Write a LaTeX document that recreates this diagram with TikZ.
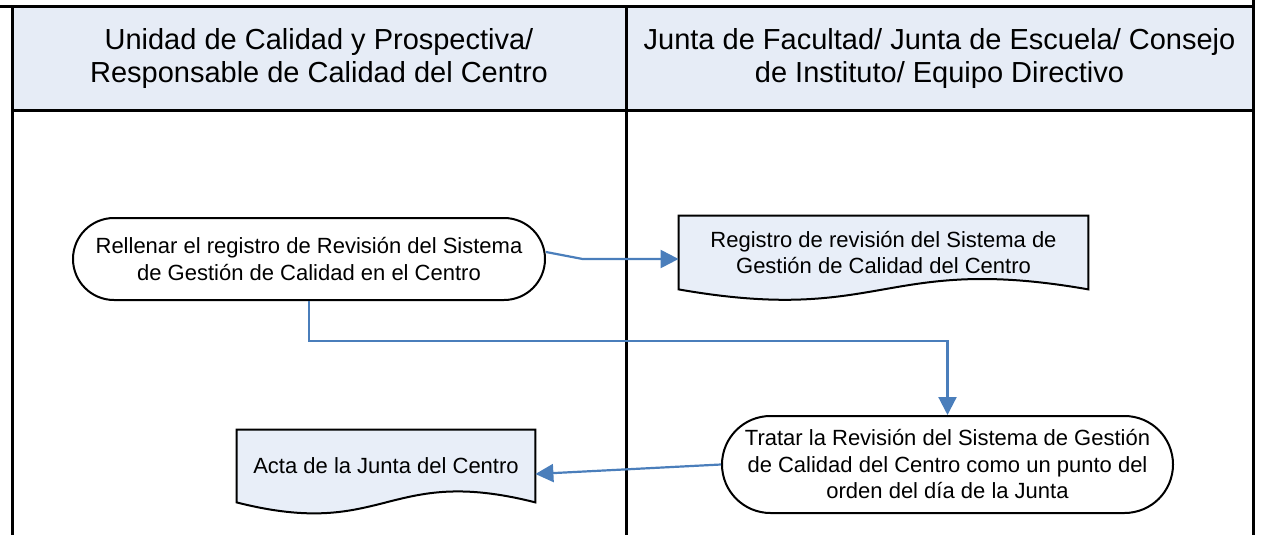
\documentclass[tikz,border=0pt]{standalone}
\usepackage{fontspec}
\setmainfont{Liberation Sans}
\usetikzlibrary{arrows.meta,calc,backgrounds}
\definecolor{lanefill}{RGB}{230,236,246}
\definecolor{docfill}{RGB}{232,238,248}
\definecolor{flowblue}{RGB}{74,126,187}

\tikzset{
  lane/.style={line width=1.5pt},
  header/.style={fill=lanefill, align=center, font=\fontsize{14.5}{16.5}\selectfont},
  proceso/.style={draw, line width=1pt, align=center, font=\fontsize{11}{13.25}\selectfont},
  documento/.style={align=center, font=\fontsize{11}{13.25}\selectfont},
  docline/.style={draw, fill=docfill, line width=1pt},
  flujo/.style={draw=flowblue, line width=1.1pt, -{Triangle[length=9pt,width=9pt]}}
}

\begin{document}
\begin{tikzpicture}[x=0.5pt,y=-0.5pt]
\useasboundingbox (0,0) rectangle (1263,535);
% cabeceras de las calles
\node[header, minimum width=307pt, minimum height=52pt] (hdrcalidad) at (319,59)
  {Unidad de Calidad y Prospectiva/\\Responsable de Calidad del Centro};
\node[header, minimum width=313.5pt, minimum height=52pt] (hdrjunta) at (939.5,59)
  {Junta de Facultad/ Junta de Escuela/ Consejo\\de Instituto/ Equipo Directivo};
\draw[lane] (0,7) -- (1253,7);
\draw[lane] (12,111) -- (1253,111);
\draw[lane] (12,7) -- (12,535);
\draw[lane] (626,7) -- (626,535);
\draw[lane] (1253,0) -- (1253,535);
% actividades y documentos
\node[proceso, minimum width=236pt, minimum height=41pt, rounded corners=20.5pt] (rellenar) at (309,259)
  {Rellenar el registro de Revisi\'on del Sistema\\de Gesti\'on de Calidad en el Centro};
\node[documento, minimum width=204.5pt, minimum height=36.5pt] (registro) at (883.5,252.5)
  {Registro de revisi\'on del Sistema de\\Gesti\'on de Calidad del Centro};
\node[proceso, minimum width=225.5pt, minimum height=48.5pt, rounded corners=24.25pt] (tratar) at (947.5,464.5)
  {Tratar la Revisi\'on del Sistema de Gesti\'on\\de Calidad del Centro como un punto del\\orden del d\'ia de la Junta};
\node[documento, minimum width=149pt, minimum height=36pt] (acta) at (386,466)
  {Acta de la Junta del Centro};
\begin{scope}[on background layer]
\draw[docline] (registro.north west) -- (registro.north east) -- (registro.south east)
  .. controls ($(registro.south)+(0,-36)$) and ($(registro.south)+(0,36)$) .. (registro.south west) -- cycle;
\draw[docline] (acta.north west) -- (acta.north east) -- (acta.south east)
  .. controls ($(acta.south)+(0,-38)$) and ($(acta.south)+(0,38)$) .. (acta.south west) -- cycle;
\end{scope}
% flechas
\draw[flujo] ([yshift=3.5pt]rellenar.east) -- ([xshift=-48pt,yshift=-3.25pt]registro.west) -- ([yshift=-3.25pt]registro.west);
\draw[flujo] (rellenar.south) -- ++(0,40) -| (tratar.north);
\draw[flujo] (tratar.west) -- ([yshift=-4pt]acta.east);
\end{tikzpicture}
\end{document}
